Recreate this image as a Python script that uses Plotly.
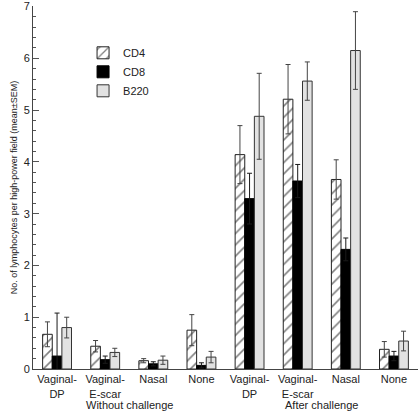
import plotly.graph_objects as go

# ---- data ----
categories = ["Vaginal-DP", "Vaginal-E-scar", "Nasal", "None",
              "Vaginal-DP", "Vaginal-E-scar", "Nasal", "None"]
tick_labels = ["Vaginal-<br>DP", "Vaginal-<br>E-scar", "Nasal", "None",
               "Vaginal-<br>DP", "Vaginal-<br>E-scar", "Nasal", "None"]
challenge_groups = ["Without challenge", "After challenge"]

cd4 = [0.67, 0.44, 0.16, 0.75, 4.14, 5.21, 3.66, 0.38]
cd4_sem = [0.24, 0.11, 0.04, 0.30, 0.56, 0.67, 0.38, 0.15]
cd8 = [0.25, 0.18, 0.10, 0.07, 3.29, 3.63, 2.31, 0.25]
cd8_sem = [0.83, 0.07, 0.04, 0.05, 0.49, 0.32, 0.22, 0.09]
b220 = [0.80, 0.32, 0.17, 0.23, 4.88, 5.56, 6.15, 0.54]
b220_sem = [0.20, 0.08, 0.08, 0.11, 0.83, 0.37, 0.75, 0.19]

y_ticks = [0, 1, 2, 3, 4, 5, 6, 7]

x = list(range(len(categories)))
font = "Liberation Sans, Arial, sans-serif"
err_style = dict(type="data", visible=True, thickness=1, width=2.5)

fig = go.Figure()
fig.add_trace(go.Bar(
    name="CD4", x=x, y=cd4,
    error_y=dict(array=cd4_sem, color="#444", **err_style),
    marker=dict(color="white", line=dict(color="#222", width=1),
                pattern=dict(shape="/", fgcolor="#000", bgcolor="white",
                             size=8, solidity=0.2)),
))
fig.add_trace(go.Bar(
    name="CD8", x=x, y=cd8,
    error_y=dict(array=cd8_sem, color="#1a1a1a", **err_style),
    marker=dict(color="#000000", line=dict(color="#000", width=1)),
))
fig.add_trace(go.Bar(
    name="B220", x=x, y=b220,
    error_y=dict(array=b220_sem, color="#444", **err_style),
    marker=dict(color="#e2e2e2", line=dict(color="#333", width=1)),
))

fig.update_layout(
    width=420, height=413,
    margin=dict(l=33, r=2, t=6, b=44),
    paper_bgcolor="white", plot_bgcolor="white",
    barmode="group", bargap=0.40, bargroupgap=0,
    font=dict(family=font, size=11, color="#222"),
    showlegend=True,
    legend=dict(x=0.13, y=0.911, xanchor="left", yanchor="top",
                bgcolor="rgba(0,0,0,0)", font=dict(size=11, color="#222"),
                itemwidth=30, tracegroupgap=0),
    xaxis=dict(
        range=[-0.5, 7.5], tickmode="array", tickvals=x, ticktext=tick_labels,
        showline=True, linecolor="#444", linewidth=1, ticks="",
        showgrid=False, zeroline=False, tickfont=dict(size=11),
        automargin=False, ticklabeloverflow="allow",
    ),
    yaxis=dict(
        range=[0, 7.01], tickmode="array", tickvals=y_ticks,
        showline=True, linecolor="#444", linewidth=1,
        ticks="inside", ticklen=6, tickcolor="#555", tickwidth=1,
        minor=dict(dtick=0.2, ticks="inside", ticklen=3, tickcolor="#555"),
        showgrid=False, zeroline=False, tickfont=dict(size=11),
        automargin=False, ticklabeloverflow="allow",
        title=dict(text="No. of lymphocytes per high-power field (mean\u00b1SEM)",
                   font=dict(size=9), standoff=4),
    ),
)

fig.add_annotation(x=1.5, y=-0.10, xref="x", yref="paper", text=challenge_groups[0],
                   showarrow=False, font=dict(size=11), yanchor="middle")
fig.add_annotation(x=5.5, y=-0.10, xref="x", yref="paper", text=challenge_groups[1],
                   showarrow=False, font=dict(size=11), yanchor="middle")

fig.write_html("out.html", config={"displayModeBar": False},
               post_script="document.body.style.margin='0';")
